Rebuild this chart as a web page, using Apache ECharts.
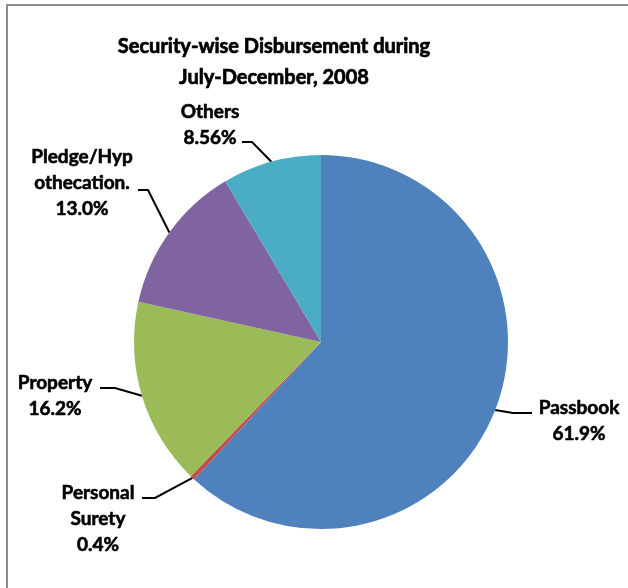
<!DOCTYPE html>
<html>
<head>
<meta charset="utf-8">
<script src="https://cdn.jsdelivr.net/npm/echarts@6/dist/echarts.min.js"></script>
<style>
  html, body { margin: 0; padding: 0; background: #fff; }
  #chart { width: 628px; height: 588px; }
</style>
</head>
<body>
<div id="chart"></div>
<script>
// Disbursement by security type, July-December 2008 (percent)
const categories = ['Passbook', 'Personal Surety', 'Property', 'Pledge/Hypothecation.', 'Others'];
const labelLines = [
  ['Passbook', '61.9%'],
  ['Personal', 'Surety', '0.4%'],
  ['Property', '16.2%'],
  ['Pledge/Hyp', 'othecation.', '13.0%'],
  ['Others', '8.56%']
];
const shares = [61.9, 0.4, 16.2, 13.0, 8.56];
const colors = ['#4F81BD', '#C0504D', '#9BBB59', '#8064A2', '#4BACC6'];

const FONT = 'Lato, "Open Sans", sans-serif';
const CENTER = [321, 342];
const RADIUS = 187;

// Where each label block sits and how its leader line bends
const labelPlacement = [
  { x: 579, y: 421, elbow: [513, 413], end: [532, 413] },
  { x: 98,  y: 519, elbow: [155, 498], end: [142, 498] },
  { x: 55,  y: 396, elbow: [115, 388], end: [100, 388] },
  { x: 82,  y: 183, elbow: [148, 190], end: [138, 190] },
  { x: 210, y: 125, elbow: [252, 142], end: [242, 142] }
];

const total = shares.reduce((a, b) => a + b, 0);
function edgePoint(i) {
  let before = 0;
  for (let k = 0; k < i; k++) before += shares[k];
  const mid = (before + shares[i] / 2) / total * Math.PI * 2;
  return [CENTER[0] + RADIUS * Math.sin(mid), CENTER[1] - RADIUS * Math.cos(mid)];
}

const chart = echarts.init(document.getElementById('chart'), null, { renderer: 'canvas' });
chart.setOption({
  backgroundColor: '#ffffff',
  animation: false,
  title: {
    text: 'Security-wise Disbursement during\nJuly-December, 2008',
    left: 269,
    top: 26,
    textAlign: 'center',
    textStyle: { fontFamily: FONT, fontWeight: 'bold', fontSize: 20, lineHeight: 31, color: '#000',
                 textBorderColor: '#000', textBorderWidth: 0.7 }
  },
  graphic: [{
    type: 'rect',
    shape: { x: 7, y: 5, width: 800, height: 800 },
    style: { fill: 'none', stroke: '#8c8c8c', lineWidth: 2 },
    silent: true
  }],
  series: [{
    type: 'pie',
    center: CENTER,
    radius: RADIUS,
    startAngle: 90,
    clockwise: true,
    avoidLabelOverlap: false,
    data: categories.map((name, i) => ({
      name: name,
      value: shares[i],
      itemStyle: { color: colors[i] }
    })),
    itemStyle: { borderWidth: 0 },
    label: {
      show: true,
      position: 'outside',
      formatter: p => labelLines[p.dataIndex].join('\n'),
      fontFamily: FONT,
      fontWeight: 'bold',
      fontSize: 19,
      lineHeight: 26,
      color: '#000',
      textBorderColor: '#000',
      textBorderWidth: 0.6,
      align: 'center'
    },
    labelLine: {
      show: true,
      length: 10,
      length2: 10,
      lineStyle: { color: '#000', width: 2 }
    },
    labelLayout: function (p) {
      const s = labelPlacement[p.dataIndex];
      return {
        x: s.x,
        y: s.y,
        align: 'center',
        verticalAlign: 'middle',
        labelLinePoints: [edgePoint(p.dataIndex), s.elbow, s.end]
      };
    },
    emphasis: { disabled: true }
  }]
});
</script>
</body>
</html>
